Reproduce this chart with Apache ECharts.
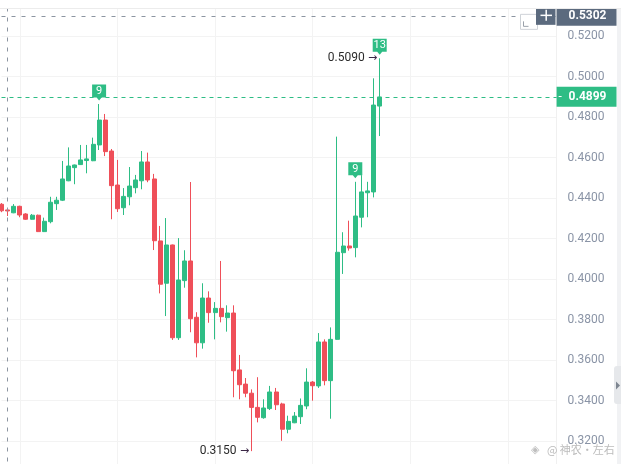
<!DOCTYPE html>
<html>
<head>
<meta charset="utf-8">
<script src="https://cdn.jsdelivr.net/npm/echarts@6/dist/echarts.min.js"></script>
<style>
  html, body { margin: 0; padding: 0; background: #fff; }
  #chart { width: 621px; height: 464px; }
</style>
</head>
<body>
<div id="chart"></div>
<script>
// ---- data ----
const categories = Array.from({ length: 92 }, (_, i) => 'K' + (i + 1));
const openP  = [0.4369,0.4341,0.4327,0.4359,0.4321,0.4295,0.4315,0.4234,0.4283,0.4372,
                0.4389,0.4485,0.4550,0.4565,0.4585,0.4584,0.4662,0.4785,0.4632,0.4464,
                0.4352,0.4406,0.4451,0.4485,0.4578,0.4494,0.4188,0.3979,0.4168,0.3710,
                0.3992,0.4089,0.3811,0.3685,0.3906,0.3834,0.3855,0.3809,0.3832,0.3551,
                0.3481,0.3436,0.3366,0.3315,0.3360,0.3442,0.3383,0.3258,0.3290,0.3320,
                0.3373,0.3491,0.3472,0.3689,0.3498,0.3702,0.4130,0.4163,0.4155,0.4305,
                0.4426,0.4430,0.4854];
const closeP = [0.4337,0.4336,0.4359,0.4316,0.4295,0.4315,0.4234,0.4285,0.4379,0.4389,
                0.4494,0.4558,0.4563,0.4588,0.4593,0.4665,0.4785,0.4629,0.4461,0.4347,
                0.4408,0.4459,0.4489,0.4578,0.4489,0.4189,0.3974,0.4168,0.3710,0.3995,
                0.4089,0.3804,0.3685,0.3906,0.3834,0.3855,0.3814,0.3832,0.3547,0.3478,
                0.3436,0.3366,0.3317,0.3363,0.3442,0.3379,0.3258,0.3297,0.3323,0.3376,
                0.3491,0.3473,0.3689,0.3498,0.3702,0.4132,0.4163,0.4153,0.4311,0.4430,
                0.4435,0.4859,0.4899];
const lowP   = [0.4330,0.4311,0.4325,0.4305,0.4292,0.4293,0.4232,0.4232,0.4275,0.4341,
                0.4385,0.4483,0.4468,0.4563,0.4522,0.4582,0.4637,0.4607,0.4295,0.4331,
                0.4316,0.4364,0.4423,0.4443,0.4478,0.4143,0.3929,0.3817,0.3699,0.3699,
                0.3957,0.3737,0.3613,0.3656,0.3784,0.3702,0.3786,0.3740,0.3416,0.3406,
                0.3416,0.3150,0.3292,0.3310,0.3353,0.3353,0.3201,0.3238,0.3288,0.3284,
                0.3357,0.3399,0.3462,0.3475,0.3310,0.3700,0.4025,0.4140,0.4107,0.4255,
                0.4305,0.4403,0.4706];
const highP  = [0.4375,0.4345,0.4370,0.4362,0.4325,0.4321,0.4318,0.4303,0.4406,0.4406,
                0.4583,0.4650,0.4565,0.4662,0.4662,0.4698,0.4864,0.4815,0.4642,0.4588,
                0.4449,0.4553,0.4514,0.4632,0.4624,0.4519,0.4262,0.4301,0.4170,0.4202,
                0.4142,0.4479,0.3836,0.3979,0.3939,0.3886,0.4089,0.3870,0.3870,0.3625,
                0.3511,0.3455,0.3515,0.3406,0.3472,0.3462,0.3389,0.3325,0.3343,0.3410,
                0.3559,0.3496,0.3733,0.3702,0.3761,0.4703,0.4231,0.4288,0.4480,0.4513,
                0.4480,0.4991,0.5090];

const countIdx   = [16, 58, 62];          // TD-count badges
const countText  = ['9', '9', '13'];
const extremeIdx = [62, 41];              // highest / lowest annotations
const extremeVal = [0.5090, 0.3150];
const lastPrice  = 0.4899;
const crossPrice = 0.5302;
const crossIdx   = 1;
const yMin = 0.30, yMax = 0.54, yStep = 0.02;

const GREEN = '#2ebd85', RED = '#ef4f59', GREY_DASH = '#8c95a1', SLATE = '#5b6a7e';

const candleData = openP.map((o, i) => [o, closeP[i], lowP[i], highP[i]]);

const badgePath = 'path://M0,0 H14 V13 H9.5 L7,16 L4.5,13 H0 Z';

const markPoints = [];
countIdx.forEach((idx, k) => {
  markPoints.push({
    coord: [categories[idx], highP[idx]],
    symbol: badgePath, symbolSize: [14, 16], symbolKeepAspect: false,
    symbolOffset: [0, -11.5],
    itemStyle: { color: GREEN },
    label: { show: true, position: 'inside', offset: [0, -1.5], formatter: countText[k],
             color: '#fff', fontSize: 11, fontFamily: 'Roboto' }
  });
});
extremeIdx.forEach((idx, k) => {
  markPoints.push({
    coord: [categories[idx], extremeVal[k]],
    symbol: 'circle', symbolSize: 1, itemStyle: { color: 'rgba(0,0,0,0)' },
    label: { show: true, position: 'left', distance: 2,
             formatter: '{v|' + extremeVal[k].toFixed(4) + '} {a|→}',
             rich: { v: { color: '#2b2b2b', fontSize: 12, fontFamily: 'Roboto' },
                     a: { color: '#3b2746', fontSize: 11, fontFamily: 'DejaVu Sans' } } }
  });
});

const chart = echarts.init(document.getElementById('chart'), null, { renderer: 'canvas' });

chart.setOption({
  animation: false,
  backgroundColor: '#fff',
  grid: { left: 1.5, right: 64.4, top: -4.5, bottom: -17.5, containLabel: false, outerBoundsMode: 'none' },
  xAxis: {
    type: 'category', data: categories, boundaryGap: false,
    axisLine: { show: false }, axisTick: { show: false }, axisLabel: { show: false },
    splitLine: { show: true, interval: (i) => i % 16 === 3, lineStyle: { color: '#f3f3f3', width: 1 } }
  },
  yAxis: {
    type: 'value', position: 'right', min: yMin, max: yMax, interval: yStep, scale: true,
    axisLine: { show: true, lineStyle: { color: '#f0f0f0' } },
    axisTick: { show: false },
    axisLabel: { margin: 11, color: '#8a94a6', fontSize: 12, fontFamily: 'Roboto',
                 formatter: (v) => v.toFixed(4) },
    splitLine: { show: true, lineStyle: { color: '#f3f3f3', width: 1 } }
  },
  series: [{
    type: 'candlestick',
    data: candleData,
    barWidth: 4.5,
    clip: false,
    itemStyle: { color: GREEN, color0: RED, borderColor: GREEN, borderColor0: RED, borderWidth: 1 },
    markPoint: { silent: true, animation: false, data: markPoints },
    markLine: {
      silent: true, animation: false, symbol: ['none', 'none'],
      data: [
        { yAxis: lastPrice,
          lineStyle: { color: GREEN, type: [4, 4], width: 1 },
          label: { show: true, position: 'end', distance: 0,
                   formatter: '{t|-}{v|' + lastPrice.toFixed(4) + '}',
                   backgroundColor: GREEN, padding: [4, 10, 4, 2],
                   rich: { t: { color: '#fff', width: 10, fontSize: 12, fontFamily: 'Roboto' },
                           v: { color: '#fff', fontSize: 12, fontWeight: 'bold', fontFamily: 'Roboto' } } } },
        { yAxis: crossPrice,
          lineStyle: { color: GREY_DASH, type: [4, 6], width: 1 },
          label: { show: true, position: 'end', distance: 0,
                   formatter: '{v|' + crossPrice.toFixed(4) + '}',
                   backgroundColor: SLATE, padding: [4, 10, 4, 12],
                   rich: { v: { color: '#fff', fontSize: 12, fontWeight: 'bold', fontFamily: 'Roboto' } } } },
        { xAxis: categories[crossIdx],
          lineStyle: { color: GREY_DASH, type: [4, 6], width: 1 },
          label: { show: false } }
      ]
    }
  }]
});

// decorations around the chart (crosshair buttons, top band, side tab, watermark)
const crossY = chart.convertToPixel({ yAxisIndex: 0 }, crossPrice);
chart.setOption({
  graphic: [
    { type: 'rect', z: 100, shape: { x: 0, y: 0, width: 621, height: 8 }, style: { fill: '#fff' } },
    { type: 'line', z: 100, shape: { x1: 0, y1: 8.5, x2: 621, y2: 8.5 }, style: { stroke: '#ececec', lineWidth: 1 } },
    { type: 'rect', z: 90, shape: { x: 520.5, y: crossY - 1, width: 17, height: 15 },
      style: { fill: '#fff', stroke: '#cfd3d8', lineWidth: 1 } },
    { type: 'polyline', z: 91, shape: { points: [[523.5, crossY + 6], [523.5, crossY + 11], [528.5, crossY + 11]] },
      style: { stroke: '#9aa1aa', lineWidth: 1, fill: null } },
    { type: 'rect', z: 92, shape: { x: 536, y: crossY - 9, width: 19.5, height: 18.5 }, style: { fill: SLATE } },
    { type: 'line', z: 93, shape: { x1: 540.5, y1: crossY, x2: 552, y2: crossY }, style: { stroke: '#fff', lineWidth: 1.5 } },
    { type: 'line', z: 93, shape: { x1: 546.2, y1: crossY - 5.5, x2: 546.2, y2: crossY + 5.5 }, style: { stroke: '#fff', lineWidth: 1.5 } },
    { type: 'rect', z: 80, shape: { x: 617, y: 0, width: 4, height: 464 }, style: { fill: '#f1f2f4' } },
    { type: 'rect', z: 81, shape: { x: 614, y: 366, width: 7, height: 38, r: [3, 0, 0, 3] }, style: { fill: '#e6e8eb' } },
    { type: 'polygon', z: 82, shape: { points: [[616, 381.5], [620, 385.5], [616, 389.5]] }, style: { fill: '#7d8590' } },
    { type: 'text', z: 95, style: { x: 531, y: 450, text: '◈', fill: 'rgba(170,170,170,0.75)', fontSize: 11,
      fontFamily: 'DejaVu Sans', verticalAlign: 'middle' } },
    { type: 'text', z: 95, style: { x: 547, y: 450, text: '@ 神农·左右', fill: 'rgba(165,165,165,0.75)',
      fontSize: 11, fontFamily: 'Noto Sans CJK SC', verticalAlign: 'middle' } }
  ]
});
</script>
</body>
</html>
